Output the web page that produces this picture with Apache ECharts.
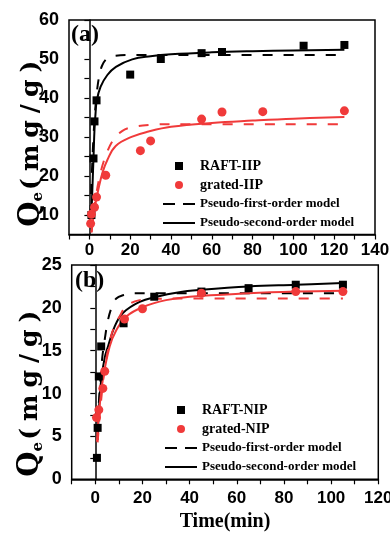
<!DOCTYPE html>
<html>
<head>
<meta charset="utf-8">
<script src="https://cdn.jsdelivr.net/npm/echarts@6/dist/echarts.min.js"></script>
<style>
html, body { margin: 0; padding: 0; background: #fff; }
#chart { width: 390px; height: 533px; }
</style>
</head>
<body>
<div id="chart"></div>
<script>
// (a) imprinted polymers, [time(min), Qe(mg/g)]
const raftIIP = [[1, 10], [2, 24.5], [2.5, 34], [3.5, 39.4], [20, 46], [35, 50], [55, 51.5], [65, 51.8], [105, 53.4], [125, 53.6]];
const gratedIIP = [[0.6, 7.8], [1, 10.2], [2.5, 12], [3.5, 14.6], [8, 20.2], [25, 26.5], [30, 29], [55, 34.6], [65, 36.4], [85, 36.5], [125, 36.7]];
const raftIIPFirst = [[0.5, 10], [1, 18], [2, 30], [3, 38], [4, 43], [5, 46], [6.3, 48.4], [8.8, 50.2], [12, 50.8], [20, 51], [125, 51]];
const raftIIPSecond = [[1, 10], [2, 24.5], [2.5, 32], [3, 36], [3.6, 39.3], [5.5, 42.9], [8.8, 45.9], [13, 48], [21, 49.9], [30, 50.7], [40, 51.2], [60, 51.7], [80, 52], [100, 52.2], [125, 52.4]];
const gratedIIPFirst = [[1, 5.5], [2, 10], [3, 14], [5, 19.8], [8, 25.2], [12, 29.5], [16, 31.5], [20, 32.4], [30, 33.1], [40, 33.3], [125, 33.3]];
const gratedIIPSecond = [[1.1, 5.7], [2, 9.5], [3, 13], [4.7, 17.3], [6.5, 21], [8.8, 24.1], [12.9, 27.7], [21, 30.1], [29, 31.4], [40, 32.6], [60, 33.6], [80, 34.2], [100, 34.7], [125, 35.1]];

// (b) non-imprinted polymers
const raftNIP = [[0.7, 2.5], [1, 6], [1.5, 12], [2.5, 15.5], [12, 18.2], [25, 21.3], [45, 21.9], [65, 22.3], [85, 22.7], [105, 22.7]];
const gratedNIP = [[0.5, 7.2], [1.5, 8.1], [3.2, 10.6], [4, 12.6], [12.4, 18.7], [20, 19.9], [45, 21.7], [85, 21.9], [105, 21.9]];
const raftNIPFirst = [[1, 6.5], [2, 11], [3, 14.3], [4, 16.3], [5.4, 18.6], [7, 20.1], [8.9, 21.1], [12, 21.5], [16, 21.7], [105, 21.7]];
const raftNIPSecond = [[1, 4.6], [1.5, 8], [2.5, 11.6], [4, 14.2], [5.4, 15.5], [8.2, 17.8], [11.7, 19.4], [18.8, 20.7], [26, 21.3], [35, 21.8], [45, 22.1], [65, 22.5], [85, 22.7], [105, 22.9]];
const gratedNIPFirst = [[1, 4.3], [2, 7.8], [3, 10.6], [4, 12.9], [6, 15.9], [8, 17.8], [10.3, 19], [13.2, 20.2], [18.8, 20.9], [25, 21.05], [40, 21.1], [105, 21.1]];
const gratedNIPSecond = [[0.7, 4.4], [1.5, 7.5], [3.2, 11.6], [6.1, 15.5], [8.9, 17.4], [13.2, 19], [20.2, 20.1], [30, 20.9], [40, 21.3], [65, 21.7], [85, 21.9], [105, 22]];

const RED = '#f03a3a';
const BLACK = '#000';
const serif = 'Liberation Serif, Times New Roman, serif';
const sans = 'Liberation Sans, Arial, sans-serif';

const tickFont = { color: '#000', fontFamily: sans, fontWeight: 'bold', fontSize: 17 };

function xAxis(gridIndex, max, labelMargin, extra) {
  return Object.assign({
    type: 'value', gridIndex: gridIndex, min: -10, max: max, interval: 10,
    axisLine: { show: true, lineStyle: { color: '#000', width: 1.5 } },
    axisTick: { show: true, inside: false, length: 5, lineStyle: { color: '#000', width: 1.2 } },
    splitLine: { show: false },
    axisLabel: Object.assign({ margin: labelMargin, formatter: v => (v % 20 === 0 ? v : '') }, tickFont)
  }, extra || {});
}

// y axis name "Qe(mg/g)", one rich fragment per char so it can be spread out
const unitChars = ['(', 'm', 'g', '/', 'g', ')'];

function yAxis(gridIndex, min, max, interval, labelStep, shift, gap) {
  const nameStyle = { fontFamily: 'DejaVu Serif', fontWeight: 'bold', color: '#000', lineHeight: 30 };
  return {
    type: 'value', gridIndex: gridIndex, min: min, max: max, interval: interval,
    axisLine: { show: true, lineStyle: { color: '#000', width: 1.5 } },
    axisTick: { show: true, inside: false, length: 5, lineStyle: { color: '#000', width: 1.2 } },
    splitLine: { show: false },
    axisLabel: Object.assign({ margin: 10, formatter: v => (v % labelStep === 0 ? v : '') }, tickFont, { fontSize: 18 }),
    name: '{q|Q}{e|e}' + unitChars.map(c => '{u|' + c + '}').join('') + '{pad|}',
    nameLocation: 'middle',
    nameGap: gap,
    nameMoveOverlap: false,
    nameTextStyle: {
      rich: {
        q: Object.assign({ fontSize: 29 }, nameStyle),
        e: Object.assign({ fontSize: 15, verticalAlign: 'bottom', padding: [0, 2, 0, 0] }, nameStyle),
        u: Object.assign({ fontSize: 25, padding: [0, 7, 0, 0] }, nameStyle),
        pad: Object.assign({ fontSize: 25, padding: [0, shift, 0, 0] }, nameStyle)
      }
    }
  };
}

function scatter(name, data, idx, symbol, size, color) {
  return { name: name, type: 'scatter', data: data, xAxisIndex: idx, yAxisIndex: idx, symbol: symbol, symbolSize: size, itemStyle: { color: color, opacity: 1 }, z: 5 };
}

function curve(name, data, idx, color, dashed) {
  return {
    name: name, type: 'line', data: data, xAxisIndex: idx, yAxisIndex: idx,
    smooth: 0.4, symbol: 'none', clip: true,
    lineStyle: { color: color, width: 2, type: dashed ? [10, 11] : 'solid' },
    itemStyle: { color: color }, z: 3
  };
}

function legend(left, top, names) {
  const base = { color: '#000', fontFamily: serif, fontWeight: 'bold', fontSize: 14, lineHeight: 16 };
  return {
    orient: 'vertical', left: left, top: top, padding: 0,
    itemWidth: 32, itemHeight: 8, itemGap: 3,
    textStyle: base,
    data: [
      { name: names[0], icon: 'path://M0 0H10V10H0Z' },
      { name: names[1], icon: 'circle' },
      { name: names[2], icon: 'path://M0 0H12V2H0Z M20 0H32V2H20Z', textStyle: { fontSize: 13 } },
      { name: names[3], icon: 'path://M0 0H32V2H0Z', textStyle: { fontSize: 13 } }
    ]
  };
}

const chart = echarts.init(document.getElementById('chart'), null, { renderer: 'canvas' });

const option = {
  backgroundColor: '#fff',
  animation: false,
  title: [
    { text: '(a)', left: 71, top: 23, padding: 0, textStyle: { fontFamily: serif, fontWeight: 'bold', fontSize: 24, color: '#000' } },
    { text: '(b)', left: 75, top: 269, padding: 0, textStyle: { fontFamily: serif, fontWeight: 'bold', fontSize: 24, color: '#000' } }
  ],
  grid: [
    { left: 69, top: 20, width: 306, height: 214.5, outerBoundsMode: 'none', show: true, borderColor: '#000', borderWidth: 1.5, backgroundColor: 'transparent' },
    { left: 71.7, top: 265, width: 306.6, height: 214.3, outerBoundsMode: 'none', show: true, borderColor: '#000', borderWidth: 1.5, backgroundColor: 'transparent' }
  ],
  xAxis: [
    xAxis(0, 140, 7),
    xAxis(1, 120, 11, {
      name: 'Time(min)', nameLocation: 'middle', nameGap: 33, nameMoveOverlap: false,
      nameTextStyle: { fontFamily: serif, fontWeight: 'bold', fontSize: 20, color: '#000' }
    })
  ],
  yAxis: [
    yAxis(0, 5, 60, 5, 10, 26, 23),
    yAxis(1, 0, 25, 2.5, 5, 36, 26)
  ],
  legend: [
    legend(163, 158, ['RAFT-IIP', 'grated-IIP', 'Pseudo-first-order model', 'Pseudo-second-order model']),
    legend(165, 402, ['RAFT-NIP', 'grated-NIP', 'Pseudo-first-order model ', 'Pseudo-second-order model '])
  ],
  series: [
    curve('Pseudo-first-order model', raftIIPFirst, 0, BLACK, true),
    curve('Pseudo-second-order model', raftIIPSecond, 0, BLACK, false),
    curve('grated-IIP first', gratedIIPFirst, 0, RED, true),
    curve('grated-IIP second', gratedIIPSecond, 0, RED, false),
    scatter('RAFT-IIP', raftIIP, 0, 'rect', 8, BLACK),
    scatter('grated-IIP', gratedIIP, 0, 'circle', 9, RED),

    curve('Pseudo-first-order model ', raftNIPFirst, 1, BLACK, true),
    curve('Pseudo-second-order model ', raftNIPSecond, 1, BLACK, false),
    curve('grated-NIP first', gratedNIPFirst, 1, RED, true),
    curve('grated-NIP second', gratedNIPSecond, 1, RED, false),
    scatter('RAFT-NIP', raftNIP, 1, 'rect', 8, BLACK),
    scatter('grated-NIP', gratedNIP, 1, 'circle', 9, RED)
  ]
};

chart.setOption(option);
</script>
</body>
</html>
